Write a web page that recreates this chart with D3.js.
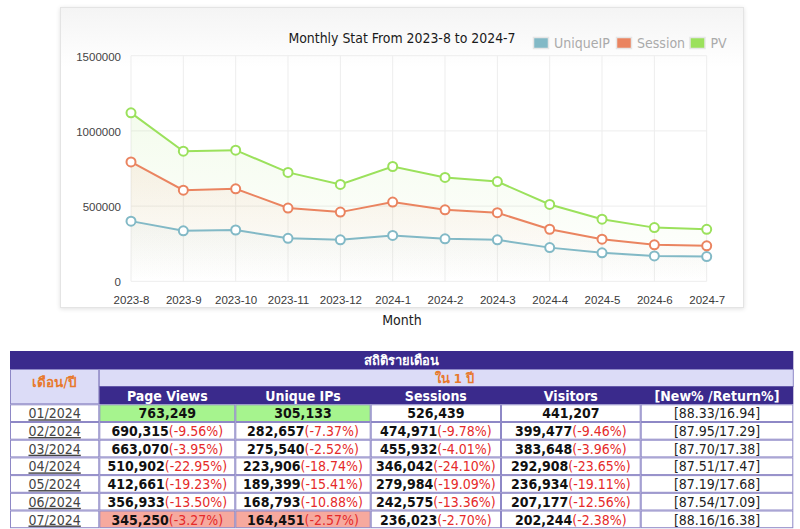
<!DOCTYPE html>
<html><head><meta charset="utf-8">
<script src="https://cdn.jsdelivr.net/npm/d3@7"></script>
<style>
html,body{margin:0;padding:0;background:#fff;}
svg{display:block;font-family:"DejaVu Sans Condensed","DejaVu Sans",sans-serif;font-stretch:condensed;}
</style></head>
<body>
<svg id="c" width="800" height="529"></svg>
<script>
// ---- chart data ----
const months = ["2023-8","2023-9","2023-10","2023-11","2023-12","2024-1","2024-2","2024-3","2024-4","2024-5","2024-6","2024-7"];
const uniqueIP = [400000,336000,341000,286000,276000,305133,282657,275540,223906,189399,168793,164451];
const session  = [794000,606000,615000,487000,460000,526439,474971,455932,346042,279984,242575,236023];
const pv       = [1120000,865000,872000,724000,644000,763249,690315,663070,510902,412661,356933,345250];
const yTicks = [0,500000,1000000,1500000];
const seriesNames = ["UniqueIP","Session","PV"];
const seriesColors = ["#82b9c6","#ea8460","#9be15c"];
const chartTitle = "Monthly Stat From 2023-8 to 2024-7";
const xTitle = "Month";

// ---- table data ----
const tableTitle = "สถิติรายเดือน";
const subTitle = "ใน 1 ปี";
const monthHeader = "เดือน/ปี";
const colHeaders = ["Page Views","Unique IPs","Sessions","Visitors","[New% /Return%]"];
const tableMonths = ["01/2024","02/2024","03/2024","04/2024","05/2024","06/2024","07/2024"];
const pageViews = [763249,690315,663070,510902,412661,356933,345250];
const pageViewsPct = ["","-9.56%","-3.95%","-22.95%","-19.23%","-13.50%","-3.27%"];
const uniqueIPs = [305133,282657,275540,223906,189399,168793,164451];
const uniqueIPsPct = ["","-7.37%","-2.52%","-18.74%","-15.41%","-10.88%","-2.57%"];
const sessions = [526439,474971,455932,346042,279984,242575,236023];
const sessionsPct = ["","-9.78%","-4.01%","-24.10%","-19.09%","-13.36%","-2.70%"];
const visitors = [441207,399477,383648,292908,236934,207177,202244];
const visitorsPct = ["","-9.46%","-3.96%","-23.65%","-19.11%","-12.56%","-2.38%"];
const newReturn = ["[88.33/16.94]","[87.95/17.29]","[87.70/17.38]","[87.51/17.47]","[87.19/17.68]","[87.54/17.09]","[88.16/16.38]"];

const svg = d3.select("#c");
const defs = svg.append("defs");

// panel
const pg = defs.append("linearGradient").attr("id","panelg").attr("x1",0).attr("y1",0).attr("x2",0).attr("y2",1);
pg.append("stop").attr("offset","0").attr("stop-color","#f4f4f4");
pg.append("stop").attr("offset","0.2").attr("stop-color","#ffffff");
const sh = defs.append("filter").attr("id","shadow").attr("x","-5%").attr("y","-5%").attr("width","110%").attr("height","115%");
sh.append("feDropShadow").attr("dx",0).attr("dy",1).attr("stdDeviation",2).attr("flood-color","#000").attr("flood-opacity",0.12);
svg.append("rect").attr("x",60.5).attr("y",7.5).attr("width",683).attr("height",300)
  .attr("fill","url(#panelg)").attr("stroke","#e4e4e4").attr("filter","url(#shadow)");

const x = d3.scalePoint().domain(months).range([131,706.7]);
const y = d3.scaleLinear().domain([0,1500000]).range([281.3,55.7]);

// grid
svg.append("g").selectAll("line").data(months).join("line")
  .attr("x1",d=>x(d)).attr("x2",d=>x(d)).attr("y1",y(1500000)).attr("y2",y(0))
  .attr("stroke","#ededed").attr("stroke-width",1);
svg.append("g").selectAll("line").data(yTicks).join("line")
  .attr("x1",x.range()[0]).attr("x2",x.range()[1]).attr("y1",d=>y(d)).attr("y2",d=>y(d))
  .attr("stroke","#ededed").attr("stroke-width",1);

// axes via d3
const yAxis = svg.append("g").attr("transform","translate(121,1)")
  .call(d3.axisLeft(y).tickValues(yTicks).tickSize(0).tickPadding(0).tickFormat(d3.format("d")));
yAxis.select(".domain").remove();
yAxis.selectAll("text").attr("font-size",11.5).attr("fill","#444").attr("font-family",null);
const xAxis = svg.append("g").attr("transform","translate(0,295.5)")
  .call(d3.axisBottom(x).tickSize(0).tickPadding(0));
xAxis.select(".domain").remove();
xAxis.selectAll("text").attr("font-size",11.5).attr("fill","#3a3a3a").attr("font-family",null);

const series = [uniqueIP, session, pv];
const areaOp = [0.07,0.11,0.11];
// area gradients
series.forEach((s,i)=>{
  const g = defs.append("linearGradient").attr("id","ag"+i).attr("gradientUnits","userSpaceOnUse")
    .attr("x1",0).attr("y1",y(d3.max(s))).attr("x2",0).attr("y2",y(0));
  g.append("stop").attr("offset","0").attr("stop-color",seriesColors[i]).attr("stop-opacity",areaOp[i]);
  g.append("stop").attr("offset","1").attr("stop-color",seriesColors[i]).attr("stop-opacity",0.0);
});
const area = d3.area().x((d,j)=>x(months[j])).y0(y(0)).y1(d=>y(d));
const line = d3.line().x((d,j)=>x(months[j])).y(d=>y(d));
series.forEach((s,i)=>{
  svg.append("path").datum(s).attr("d",area).attr("fill","url(#ag"+i+")");
});
series.forEach((s,i)=>{
  svg.append("path").datum(s).attr("d",line).attr("fill","none").attr("stroke",seriesColors[i]).attr("stroke-width",2);
  svg.append("g").selectAll("circle").data(s).join("circle")
    .attr("cx",(d,j)=>x(months[j])).attr("cy",d=>y(d)).attr("r",4.5)
    .attr("fill","#fff").attr("stroke",seriesColors[i]).attr("stroke-width",2);
});

// title
svg.append("text").attr("x",402).attr("y",43).attr("text-anchor","middle")
  .attr("font-size",13.9).attr("fill","#1a1a1a").text(chartTitle);
// legend
const legX = [533,616,689.5];
seriesNames.forEach((n,i)=>{
  svg.append("rect").attr("x",legX[i]+0.5).attr("y",37.5).attr("width",15).attr("height",11)
    .attr("fill",seriesColors[i]).attr("stroke","#e6e6e6").attr("stroke-width",1.5);
  svg.append("text").attr("x",legX[i]+21).attr("y",48).attr("font-size",14).attr("fill","#aaa").text(n);
});
// x title
svg.append("text").attr("x",402).attr("y",325).attr("text-anchor","middle")
  .attr("font-size",14).attr("fill","#222").text(xTitle);

// ---- table ----
const colX = [10,99.3,235.3,370.7,501,640.7,793.3];
const rowY = [351,369,386.5,404.3];
const rowH = 17.7;
const dark = "#3a2a8c", lav = "#dcdcf7", orange = "#e8792c", border = "#8e88c6";
const t = svg.append("g");
// title row
t.append("rect").attr("x",colX[0]).attr("y",rowY[0]).attr("width",colX[6]-colX[0]).attr("height",rowY[1]-rowY[0]).attr("fill",dark);
t.append("text").attr("x",(colX[0]+colX[6])/2).attr("y",rowY[0]+14).attr("text-anchor","middle")
  .attr("font-size",13).attr("font-weight","bold").attr("fill","#fff").text(tableTitle);
// month header (rowspan)
t.append("rect").attr("x",colX[0]+0.5).attr("y",rowY[1]+0.5).attr("width",colX[1]-colX[0]-1).attr("height",rowY[3]-rowY[1]-1)
  .attr("fill",lav).attr("stroke",border);
t.append("text").attr("x",(colX[0]+colX[1])/2).attr("y",rowY[1]+18).attr("text-anchor","middle")
  .attr("font-size",13.5).attr("font-weight","bold").attr("fill",orange).text(monthHeader);
// sub title row
t.append("rect").attr("x",colX[1]).attr("y",rowY[1]+0.5).attr("width",colX[6]-colX[1]).attr("height",rowY[2]-rowY[1]-0.5)
  .attr("fill",lav).attr("stroke",border);
t.append("text").attr("x",(colX[1]+colX[6])/2+8).attr("y",rowY[1]+13.5).attr("text-anchor","middle")
  .attr("font-size",13).attr("font-weight","bold").attr("fill",orange).text(subTitle);
// header row
t.append("rect").attr("x",colX[1]).attr("y",rowY[2]).attr("width",colX[6]-colX[1]).attr("height",rowY[3]-rowY[2]).attr("fill",dark);
colHeaders.forEach((h,i)=>{
  t.append("text").attr("x",(colX[i+1]+colX[i+2])/2).attr("y",rowY[2]+14.5).attr("text-anchor","middle")
    .attr("font-size",14).attr("font-weight","bold").attr("fill","#fff").text(h);
});
// data rows
const fmt = d3.format(",");
const cols = [
  {v:pageViews,p:pageViewsPct},
  {v:uniqueIPs,p:uniqueIPsPct},
  {v:sessions,p:sessionsPct},
  {v:visitors,p:visitorsPct}
];
tableMonths.forEach((m,r)=>{
  const y0 = rowY[3] + r*rowH;
  const ty = y0 + 14;
  // month cell
  t.append("rect").attr("x",colX[0]+0.5).attr("y",y0+0.5).attr("width",colX[1]-colX[0]-1).attr("height",rowH-1)
    .attr("fill","#fff").attr("stroke",border);
  t.append("text").attr("x",(colX[0]+colX[1])/2).attr("y",ty).attr("text-anchor","middle")
    .attr("font-size",14).attr("fill","#444").attr("text-decoration","underline").text(m);
  cols.forEach((c,ci)=>{
    let bg = "#fff";
    if (ci<2 && r===0) bg = "#a6f48e";
    if (ci<2 && r===tableMonths.length-1) bg = "#f6a99e";
    t.append("rect").attr("x",colX[ci+1]+0.5).attr("y",y0+0.5).attr("width",colX[ci+2]-colX[ci+1]-1).attr("height",rowH-1)
      .attr("fill",bg).attr("stroke",border);
    const tx = t.append("text").attr("x",(colX[ci+1]+colX[ci+2])/2).attr("y",ty).attr("text-anchor","middle").attr("font-size",14);
    tx.append("tspan").attr("font-weight","bold").attr("fill","#111").text(fmt(c.v[r]));
    if (c.p[r]) tx.append("tspan").attr("fill","#e52a2a").text("(" + c.p[r] + ")");
  });
  t.append("rect").attr("x",colX[5]+0.5).attr("y",y0+0.5).attr("width",colX[6]-colX[5]-1).attr("height",rowH-1)
    .attr("fill","#fff").attr("stroke",border);
  t.append("text").attr("x",(colX[5]+colX[6])/2).attr("y",ty).attr("text-anchor","middle")
    .attr("font-size",14).attr("fill","#222").text(newReturn[r]);
});
</script>
</body></html>
